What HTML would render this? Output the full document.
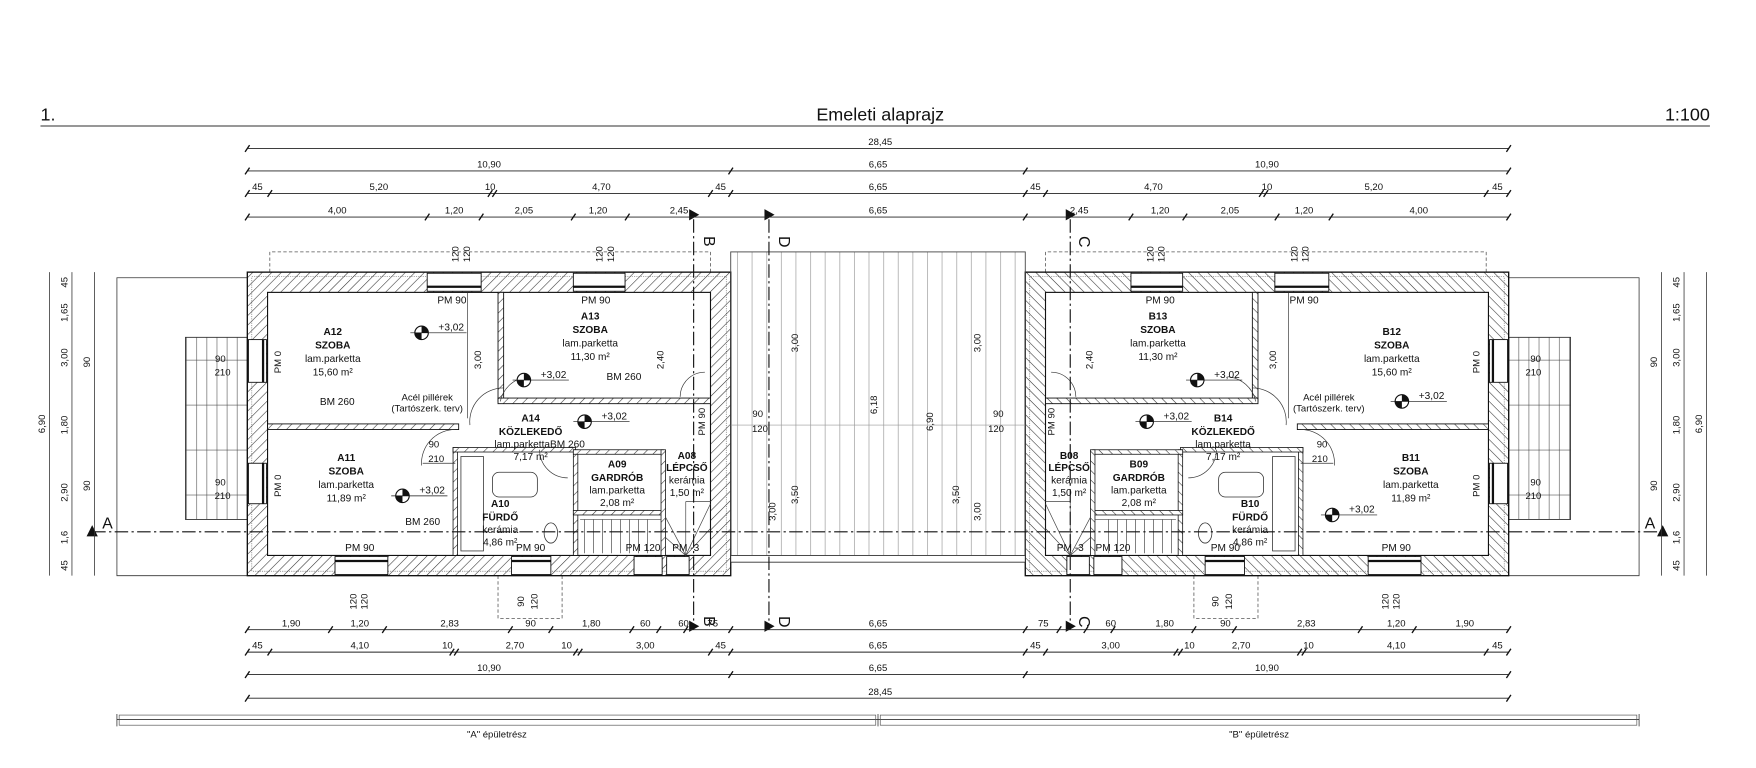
<!DOCTYPE html>
<html><head><meta charset="utf-8"><style>
html,body{margin:0;padding:0;background:#fff}
svg{display:block}
text{font-family:"Liberation Sans",sans-serif;fill:#111}
.s{font-size:8.5px}
.b{font-size:9px;font-weight:bold}
.r{font-size:9px}
.d line{stroke:#222;stroke-width:.8}
</style></head><body>
<svg width="1756" height="768" viewBox="0 0 1562 683" xmlns="http://www.w3.org/2000/svg">
<defs>
<pattern id="h" width="6" height="6" patternUnits="userSpaceOnUse" patternTransform="rotate(45)">
<rect width="6" height="6" fill="#fff"/><line x1="0" y1="0" x2="0" y2="6" stroke="#333" stroke-width="1"/></pattern>
<pattern id="v" width="13" height="10" patternUnits="userSpaceOnUse"><line x1="6" y1="0" x2="6" y2="10" stroke="#999" stroke-width=".6"/></pattern>
<pattern id="g" width="9" height="40" patternUnits="userSpaceOnUse"><rect width="9" height="40" fill="#fff"/><line x1="4" y1="0" x2="4" y2="40" stroke="#666" stroke-width=".6"/><line x1="0" y1="0" x2="9" y2="0" stroke="#444" stroke-width="1"/></pattern>
<g id="bld">
 <rect x="165" y="300" width="55" height="162" fill="url(#g)" stroke="#333" stroke-width=".8"/>
 <path d="M240 242 V224 H632 V242" fill="none" stroke="#555" stroke-dasharray="3,2" stroke-width=".7"/>
 <path d="M443 512 V550 H500 V512" fill="none" stroke="#555" stroke-dasharray="3,2" stroke-width=".7"/>
 <path d="M220 247 H104 V512 H220" fill="none" stroke="#333" stroke-width=".7"/>
 <rect x="220" y="242" width="430" height="270" fill="url(#h)" stroke="#111" stroke-width="1.2"/>
 <rect x="224" y="246" width="422" height="262" fill="none" stroke="#555" stroke-width=".5" stroke-dasharray="1,1"/>
 <rect x="238" y="260" width="394" height="234" fill="#fff" stroke="#111" stroke-width="1"/>
 <rect x="380" y="243" width="48" height="16" fill="#fff" stroke="#111" stroke-width=".8"/><line x1="380" y1="255" x2="428" y2="255" stroke="#111" stroke-width="2"/>
 <rect x="510" y="243" width="46" height="16" fill="#fff" stroke="#111" stroke-width=".8"/><line x1="510" y1="255" x2="556" y2="255" stroke="#111" stroke-width="2"/>
 <rect x="298" y="495" width="47" height="16" fill="#fff" stroke="#111" stroke-width=".8"/><line x1="298" y1="499" x2="345" y2="499" stroke="#111" stroke-width="2"/>
 <rect x="455" y="495" width="35" height="16" fill="#fff" stroke="#111" stroke-width=".8"/><line x1="455" y1="499" x2="490" y2="499" stroke="#111" stroke-width="2"/>
 <rect x="564" y="495" width="25" height="16" fill="#fff" stroke="#111" stroke-width=".8"/>
 <rect x="593" y="495" width="20" height="16" fill="#fff" stroke="#111" stroke-width=".8"/>
 <rect x="221" y="302" width="16" height="38" fill="#fff" stroke="#111" stroke-width=".8"/><line x1="234" y1="302" x2="234" y2="340" stroke="#111" stroke-width="2"/>
 <rect x="221" y="412" width="16" height="36" fill="#fff" stroke="#111" stroke-width=".8"/><line x1="234" y1="412" x2="234" y2="448" stroke="#111" stroke-width="2"/>
 <rect x="443" y="260" width="5" height="97" fill="url(#h)" stroke="#111" stroke-width=".8"/>
 <rect x="443" y="354" width="189" height="5" fill="url(#h)" stroke="#111" stroke-width=".8"/>
 <rect x="238" y="377" width="170" height="5" fill="url(#h)" stroke="#111" stroke-width=".8"/>
 <line x1="416" y1="260" x2="416" y2="372" stroke="#333" stroke-width=".6"/>
 <rect x="403" y="398" width="4" height="96" fill="url(#h)" stroke="#111" stroke-width=".7"/>
 <rect x="403" y="398" width="109" height="4" fill="url(#h)" stroke="#111" stroke-width=".7"/>
 <rect x="510" y="400" width="4" height="94" fill="url(#h)" stroke="#111" stroke-width=".7"/>
 <rect x="510" y="400" width="80" height="4" fill="url(#h)" stroke="#111" stroke-width=".7"/>
 <rect x="510" y="454" width="80" height="4" fill="url(#h)" stroke="#111" stroke-width=".7"/>
 <rect x="588" y="400" width="4" height="94" fill="url(#h)" stroke="#111" stroke-width=".7"/>
 <rect x="410" y="406" width="20" height="84" fill="none" stroke="#333" stroke-width=".7"/>
 <rect x="438" y="420" width="40" height="22" rx="6" fill="none" stroke="#333" stroke-width=".7"/>
 <ellipse cx="490" cy="474" rx="6" ry="9" fill="none" stroke="#333" stroke-width=".7"/>
 <g stroke="#444" stroke-width=".6">
 <line x1="516" y1="462" x2="588" y2="462"/><line x1="520" y1="462" x2="520" y2="492"/><line x1="528" y1="462" x2="528" y2="492"/><line x1="536" y1="462" x2="536" y2="492"/><line x1="544" y1="462" x2="544" y2="492"/><line x1="552" y1="462" x2="552" y2="492"/><line x1="560" y1="462" x2="560" y2="492"/><line x1="568" y1="462" x2="568" y2="492"/><line x1="576" y1="462" x2="576" y2="492"/>
 <path d="M610 494 L632 448 M610 494 L632 470 M610 494 L592 460 M610 494 L592 478 M610 494 V446 M610 446 H632"/>
 </g>
 <g fill="none" stroke="#333" stroke-width=".6">
 <path d="M418 378 A30 30 0 0 1 448 345"/><path d="M405 382 A30 30 0 0 0 375 414"/><path d="M445 357 A28 28 0 0 1 470 335"/>
 <path d="M605 353 A22 22 0 0 1 627 331"/><path d="M480 400 A25 25 0 0 0 505 425"/>
 </g>
 <line x1="376" y1="412" x2="405" y2="412" stroke="#333" stroke-width=".6"/>
</g>
</defs>

<text x="36" y="107" style="font-size:16px">1.</text>
<text x="783" y="107" text-anchor="middle" style="font-size:16px">Emeleti alaprajz</text>
<text x="1521" y="107" text-anchor="end" style="font-size:16px">1:100</text>
<line x1="36" y1="112" x2="1521" y2="112" stroke="#888" stroke-width="1.5"/>

<use href="#bld"/>
<use href="#bld" transform="matrix(-1,0,0,1,1562,0)"/>

<rect x="650" y="224" width="262" height="272" fill="url(#v)" stroke="#444" stroke-width=".8"/>
<rect x="650" y="494" width="262" height="6" fill="#fff" stroke="#333" stroke-width=".8"/>
<line x1="650" y1="378" x2="912" y2="378" stroke="#999" stroke-width=".5"/>

<g stroke="#111" stroke-width="1" stroke-dasharray="12,3,2,3">
<line x1="82" y1="473" x2="1480" y2="473"/>
<line x1="617" y1="195" x2="617" y2="560"/>
<line x1="684" y1="195" x2="684" y2="560"/>
<line x1="952" y1="195" x2="952" y2="560"/>
</g>
<g fill="#111">
<polygon points="613,186 622,191 613,196"/><polygon points="680,186 689,191 680,196"/><polygon points="948,186 957,191 948,196"/>
<polygon points="613,552 622,557 613,562"/><polygon points="680,552 689,557 680,562"/><polygon points="948,552 957,557 948,562"/>
<polygon points="82,467 77,477 87,477"/><polygon points="1479,467 1474,477 1484,477"/>
</g>
<g style="font-size:14px">
<text x="626" y="210" transform="rotate(90 626 210)">B</text><text x="693" y="210" transform="rotate(90 693 210)">D</text><text x="960" y="210" transform="rotate(90 960 210)">C</text>
<text x="626" y="548" transform="rotate(90 626 548)">B</text><text x="693" y="548" transform="rotate(90 693 548)">D</text><text x="960" y="548" transform="rotate(90 960 548)">C</text>
<text x="91" y="470">A</text><text x="1463" y="470">A</text>
</g>

<g class="d">
<line x1="220" y1="132" x2="1342" y2="132"/><line x1="220" y1="152" x2="1342" y2="152"/><line x1="220" y1="172" x2="1342" y2="172"/><line x1="220" y1="193" x2="1342" y2="193"/>
<line x1="220" y1="560" x2="1342" y2="560"/><line x1="220" y1="580" x2="1342" y2="580"/><line x1="220" y1="600" x2="1342" y2="600"/><line x1="220" y1="621" x2="1342" y2="621"/>
</g>
<g stroke="#111" stroke-width="1.2">
<path d="M218 135l4-6M1340 135l4-6 M218 155l4-6M648 155l4-6M910 155l4-6M1340 155l4-6
M218 175l4-6M238 175l4-6M434 175l4-6M438 175l4-6M630 175l4-6M648 175l4-6M910 175l4-6M928 175l4-6M1120 175l4-6M1124 175l4-6M1320 175l4-6M1340 175l4-6
M218 196l4-6M378 196l4-6M426 196l4-6M508 196l4-6M556 196l4-6M910 196l4-6M1004 196l4-6M1052 196l4-6M1134 196l4-6M1182 196l4-6M1340 196l4-6
M218 563l4-6M292 563l4-6M340 563l4-6M452 563l4-6M488 563l4-6M560 563l4-6M584 563l4-6M608 563l4-6M648 563l4-6M910 563l4-6M940 563l4-6M964 563l4-6M988 563l4-6M1060 563l4-6M1096 563l4-6M1208 563l4-6M1256 563l4-6M1340 563l4-6
M218 583l4-6M238 583l4-6M400 583l4-6M404 583l4-6M510 583l4-6M514 583l4-6M630 583l4-6M648 583l4-6M910 583l4-6M928 583l4-6M1044 583l4-6M1048 583l4-6M1154 583l4-6M1158 583l4-6M1320 583l4-6M1340 583l4-6
M218 603l4-6M648 603l4-6M910 603l4-6M1340 603l4-6 M218 624l4-6M1340 624l4-6"/>
</g>
<g class="s" text-anchor="middle">
<text x="783" y="129">28,45</text>
<text x="435" y="149">10,90</text><text x="781" y="149">6,65</text><text x="1127" y="149">10,90</text>
<text x="229" y="169">45</text><text x="337" y="169">5,20</text><text x="436" y="169">10</text><text x="535" y="169">4,70</text><text x="641" y="169">45</text><text x="781" y="169">6,65</text><text x="921" y="169">45</text><text x="1026" y="169">4,70</text><text x="1127" y="169">10</text><text x="1222" y="169">5,20</text><text x="1332" y="169">45</text>
<text x="300" y="190">4,00</text><text x="404" y="190">1,20</text><text x="466" y="190">2,05</text><text x="532" y="190">1,20</text><text x="604" y="190">2,45</text><text x="781" y="190">6,65</text><text x="960" y="190">2,45</text><text x="1032" y="190">1,20</text><text x="1094" y="190">2,05</text><text x="1160" y="190">1,20</text><text x="1262" y="190">4,00</text>
<text x="259" y="557">1,90</text><text x="320" y="557">1,20</text><text x="400" y="557">2,83</text><text x="472" y="557">90</text><text x="526" y="557">1,80</text><text x="574" y="557">60</text><text x="608" y="557">60</text><text x="634" y="557">75</text><text x="781" y="557">6,65</text><text x="928" y="557">75</text><text x="988" y="557">60</text><text x="1036" y="557">1,80</text><text x="1090" y="557">90</text><text x="1162" y="557">2,83</text><text x="1242" y="557">1,20</text><text x="1303" y="557">1,90</text>
<text x="229" y="577">45</text><text x="320" y="577">4,10</text><text x="398" y="577">10</text><text x="458" y="577">2,70</text><text x="504" y="577">10</text><text x="574" y="577">3,00</text><text x="641" y="577">45</text><text x="781" y="577">6,65</text><text x="921" y="577">45</text><text x="988" y="577">3,00</text><text x="1058" y="577">10</text><text x="1104" y="577">2,70</text><text x="1164" y="577">10</text><text x="1242" y="577">4,10</text><text x="1332" y="577">45</text>
<text x="435" y="597">10,90</text><text x="781" y="597">6,65</text><text x="1127" y="597">10,90</text>
<text x="783" y="618">28,45</text>
</g>
<path d="M104 635 V646 M104 640 H1458 M781 635 V646 M1458 635 V646" stroke="#333" stroke-width=".7" fill="none"/>
<rect x="106" y="636" width="673" height="9" fill="none" stroke="#555" stroke-width=".6"/>
<rect x="783" y="636" width="673" height="9" fill="none" stroke="#555" stroke-width=".6"/>
<text class="s" x="442" y="656" text-anchor="middle">"A" épületrész</text>
<text class="s" x="1120" y="656" text-anchor="middle">"B" épületrész</text>

<g stroke="#333" stroke-width=".7">
<line x1="44" y1="242" x2="44" y2="512"/><line x1="64" y1="242" x2="64" y2="512"/><line x1="84" y1="242" x2="84" y2="512"/>
<line x1="1478" y1="242" x2="1478" y2="512"/><line x1="1498" y1="242" x2="1498" y2="512"/><line x1="1518" y1="242" x2="1518" y2="512"/>
</g>
<g class="s" text-anchor="middle">
<text transform="translate(40,377) rotate(-90)">6,90</text>
<text transform="translate(60,251) rotate(-90)">45</text><text transform="translate(60,278) rotate(-90)">1,65</text><text transform="translate(60,318) rotate(-90)">3,00</text><text transform="translate(60,378) rotate(-90)">1,80</text><text transform="translate(60,438) rotate(-90)">2,90</text><text transform="translate(60,478) rotate(-90)">1,6</text><text transform="translate(60,503) rotate(-90)">45</text>
<text transform="translate(80,322) rotate(-90)">90</text><text transform="translate(80,432) rotate(-90)">90</text>
<text transform="translate(1514,377) rotate(-90)">6,90</text>
<text transform="translate(1494,251) rotate(-90)">45</text><text transform="translate(1494,278) rotate(-90)">1,65</text><text transform="translate(1494,318) rotate(-90)">3,00</text><text transform="translate(1494,378) rotate(-90)">1,80</text><text transform="translate(1494,438) rotate(-90)">2,90</text><text transform="translate(1494,478) rotate(-90)">1,6</text><text transform="translate(1494,503) rotate(-90)">45</text>
<text transform="translate(1474,322) rotate(-90)">90</text><text transform="translate(1474,432) rotate(-90)">90</text>
<text transform="translate(710,305) rotate(-90)">3,00</text><text transform="translate(710,440) rotate(-90)">3,50</text><text transform="translate(690,455) rotate(-90)">3,00</text><text transform="translate(780,360) rotate(-90)">6,18</text><text transform="translate(830,375) rotate(-90)">6,90</text><text transform="translate(853,440) rotate(-90)">3,50</text><text transform="translate(872,305) rotate(-90)">3,00</text><text transform="translate(872,455) rotate(-90)">3,00</text>
<text transform="translate(428,320) rotate(-90)">3,00</text><text transform="translate(1135,320) rotate(-90)">3,00</text>
<text transform="translate(590,320) rotate(-90)">2,40</text><text transform="translate(972,320) rotate(-90)">2,40</text>
<text transform="translate(408,226) rotate(-90)">120</text><text transform="translate(418,226) rotate(-90)">120</text><text transform="translate(536,226) rotate(-90)">120</text><text transform="translate(546,226) rotate(-90)">120</text>
<text transform="translate(1026,226) rotate(-90)">120</text><text transform="translate(1036,226) rotate(-90)">120</text><text transform="translate(1154,226) rotate(-90)">120</text><text transform="translate(1164,226) rotate(-90)">120</text>
<text transform="translate(317,535) rotate(-90)">120</text><text transform="translate(327,535) rotate(-90)">120</text><text transform="translate(1235,535) rotate(-90)">120</text><text transform="translate(1245,535) rotate(-90)">120</text>
<text transform="translate(466,535) rotate(-90)">90</text><text transform="translate(478,535) rotate(-90)">120</text><text transform="translate(1084,535) rotate(-90)">90</text><text transform="translate(1096,535) rotate(-90)">120</text>
<text transform="translate(627,375) rotate(-90)">PM 90</text><text transform="translate(938,375) rotate(-90)">PM 90</text>
<text transform="translate(250,322) rotate(-90)">PM 0</text><text transform="translate(250,432) rotate(-90)">PM 0</text>
<text transform="translate(1316,322) rotate(-90)">PM 0</text><text transform="translate(1316,432) rotate(-90)">PM 0</text>
</g>

<g text-anchor="middle">
<text class="b" x="296" y="298">A12</text><text class="b" x="296" y="310">SZOBA</text><text class="r" x="296" y="322">lam.parketta</text><text class="r" x="296" y="334">15,60 m²</text>
<text class="b" x="525" y="284">A13</text><text class="b" x="525" y="296">SZOBA</text><text class="r" x="525" y="308">lam.parketta</text><text class="r" x="525" y="320">11,30 m²</text>
<text class="b" x="472" y="375">A14</text><text class="b" x="472" y="387">KÖZLEKEDŐ</text><text class="r" x="480" y="398">lam.parkettaBM 260</text><text class="r" x="472" y="409">7,17 m²</text>
<text class="b" x="308" y="410">A11</text><text class="b" x="308" y="422">SZOBA</text><text class="r" x="308" y="434">lam.parketta</text><text class="r" x="308" y="446">11,89 m²</text>
<text class="b" x="445" y="451">A10</text><text class="b" x="445" y="463">FÜRDŐ</text><text class="r" x="445" y="474">kerámia</text><text class="r" x="445" y="485">4,86 m²</text>
<text class="b" x="549" y="416">A09</text><text class="b" x="549" y="428">GARDRÓB</text><text class="r" x="549" y="439">lam.parketta</text><text class="r" x="549" y="450">2,08 m²</text>
<text class="b" x="611" y="408">A08</text><text class="b" x="611" y="419">LÉPCSŐ</text><text class="r" x="611" y="430">kerámia</text><text class="r" x="611" y="441">1,50 m²</text>
<text class="r" x="402" y="270">PM 90</text><text class="r" x="530" y="270">PM 90</text><text class="r" x="320" y="490">PM 90</text><text class="r" x="472" y="490">PM 90</text><text class="r" x="572" y="490">PM 120</text><text class="r" x="610" y="490">PM -3</text>
<text class="r" x="300" y="360">BM 260</text><text class="r" x="555" y="338">BM 260</text><text class="r" x="376" y="467">BM 260</text>
<text class="s" x="380" y="356">Acél pillérek</text><text class="s" x="380" y="366">(Tartószerk. terv)</text>
<text class="s" x="196" y="322">90</text><text class="s" x="198" y="334">210</text><text class="s" x="196" y="432">90</text><text class="s" x="198" y="444">210</text>
<text class="s" x="386" y="398">90</text><text class="s" x="388" y="411">210</text>
<text class="s" x="674" y="371">90</text><text class="s" x="676" y="384">120</text>
</g>
<g text-anchor="middle">
<text class="b" x="1030" y="284">B13</text><text class="b" x="1030" y="296">SZOBA</text><text class="r" x="1030" y="308">lam.parketta</text><text class="r" x="1030" y="320">11,30 m²</text>
<text class="b" x="1238" y="298">B12</text><text class="b" x="1238" y="310">SZOBA</text><text class="r" x="1238" y="322">lam.parketta</text><text class="r" x="1238" y="334">15,60 m²</text>
<text class="b" x="1088" y="375">B14</text><text class="b" x="1088" y="387">KÖZLEKEDŐ</text><text class="r" x="1088" y="398">lam.parketta</text><text class="r" x="1088" y="409">7,17 m²</text>
<text class="b" x="1255" y="410">B11</text><text class="b" x="1255" y="422">SZOBA</text><text class="r" x="1255" y="434">lam.parketta</text><text class="r" x="1255" y="446">11,89 m²</text>
<text class="b" x="1112" y="451">B10</text><text class="b" x="1112" y="463">FÜRDŐ</text><text class="r" x="1112" y="474">kerámia</text><text class="r" x="1112" y="485">4,86 m²</text>
<text class="b" x="1013" y="416">B09</text><text class="b" x="1013" y="428">GARDRÓB</text><text class="r" x="1013" y="439">lam.parketta</text><text class="r" x="1013" y="450">2,08 m²</text>
<text class="b" x="951" y="408">B08</text><text class="b" x="951" y="419">LÉPCSŐ</text><text class="r" x="951" y="430">kerámia</text><text class="r" x="951" y="441">1,50 m²</text>
<text class="r" x="1032" y="270">PM 90</text><text class="r" x="1160" y="270">PM 90</text><text class="r" x="1242" y="490">PM 90</text><text class="r" x="1090" y="490">PM 90</text><text class="r" x="990" y="490">PM 120</text><text class="r" x="952" y="490">PM -3</text>
<text class="s" x="1182" y="356">Acél pillérek</text><text class="s" x="1182" y="366">(Tartószerk. terv)</text>
<text class="s" x="1366" y="322">90</text><text class="s" x="1364" y="334">210</text><text class="s" x="1366" y="432">90</text><text class="s" x="1364" y="444">210</text>
<text class="s" x="1176" y="398">90</text><text class="s" x="1174" y="411">210</text>
<text class="s" x="888" y="371">90</text><text class="s" x="886" y="384">120</text>
</g>
<g>
<g transform="translate(375,296)"><circle r="6" fill="#fff" stroke="#111"/><path d="M0 -6A6 6 0 0 1 6 0H0Z M0 6A6 6 0 0 1 -6 0H0Z" fill="#111"/><line x1="-10" y1="0" x2="40" y2="0" stroke="#111" stroke-width=".6"/><text class="r" x="15" y="-2">+3,02</text></g>
<g transform="translate(466,338)"><circle r="6" fill="#fff" stroke="#111"/><path d="M0 -6A6 6 0 0 1 6 0H0Z M0 6A6 6 0 0 1 -6 0H0Z" fill="#111"/><line x1="-10" y1="0" x2="40" y2="0" stroke="#111" stroke-width=".6"/><text class="r" x="15" y="-2">+3,02</text></g>
<g transform="translate(520,375)"><circle r="6" fill="#fff" stroke="#111"/><path d="M0 -6A6 6 0 0 1 6 0H0Z M0 6A6 6 0 0 1 -6 0H0Z" fill="#111"/><line x1="-10" y1="0" x2="40" y2="0" stroke="#111" stroke-width=".6"/><text class="r" x="15" y="-2">+3,02</text></g>
<g transform="translate(358,441)"><circle r="6" fill="#fff" stroke="#111"/><path d="M0 -6A6 6 0 0 1 6 0H0Z M0 6A6 6 0 0 1 -6 0H0Z" fill="#111"/><line x1="-10" y1="0" x2="40" y2="0" stroke="#111" stroke-width=".6"/><text class="r" x="15" y="-2">+3,02</text></g>
<g transform="translate(1065,338)"><circle r="6" fill="#fff" stroke="#111"/><path d="M0 -6A6 6 0 0 1 6 0H0Z M0 6A6 6 0 0 1 -6 0H0Z" fill="#111"/><line x1="-10" y1="0" x2="40" y2="0" stroke="#111" stroke-width=".6"/><text class="r" x="15" y="-2">+3,02</text></g>
<g transform="translate(1020,375)"><circle r="6" fill="#fff" stroke="#111"/><path d="M0 -6A6 6 0 0 1 6 0H0Z M0 6A6 6 0 0 1 -6 0H0Z" fill="#111"/><line x1="-10" y1="0" x2="40" y2="0" stroke="#111" stroke-width=".6"/><text class="r" x="15" y="-2">+3,02</text></g>
<g transform="translate(1247,357)"><circle r="6" fill="#fff" stroke="#111"/><path d="M0 -6A6 6 0 0 1 6 0H0Z M0 6A6 6 0 0 1 -6 0H0Z" fill="#111"/><line x1="-10" y1="0" x2="40" y2="0" stroke="#111" stroke-width=".6"/><text class="r" x="15" y="-2">+3,02</text></g>
<g transform="translate(1185,458)"><circle r="6" fill="#fff" stroke="#111"/><path d="M0 -6A6 6 0 0 1 6 0H0Z M0 6A6 6 0 0 1 -6 0H0Z" fill="#111"/><line x1="-10" y1="0" x2="40" y2="0" stroke="#111" stroke-width=".6"/><text class="r" x="15" y="-2">+3,02</text></g>
</g>
</svg>
</body></html>
